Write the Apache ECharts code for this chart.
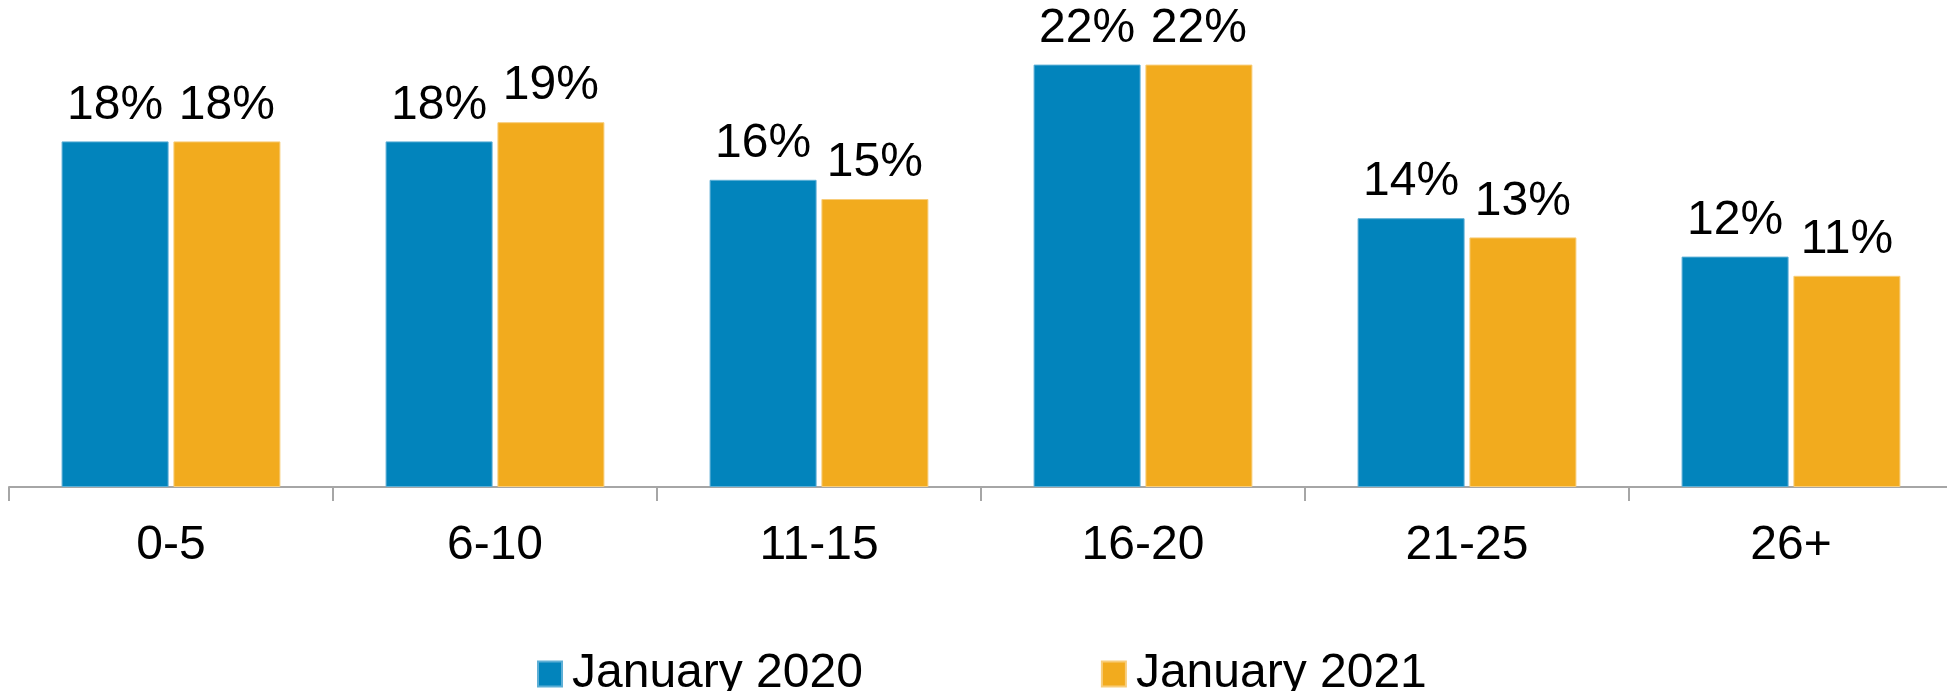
<!DOCTYPE html>
<html>
<head>
<meta charset="utf-8">
<script src="https://cdn.jsdelivr.net/npm/echarts@6/dist/echarts.min.js"></script>
<style>
html,body{margin:0;padding:0;background:#fff;overflow:hidden;}
#chart{width:1947px;height:691px;}
</style>
</head>
<body>
<div id="chart"></div>
<script>
const categories = ['0-5', '6-10', '11-15', '16-20', '21-25', '26+'];
const jan2020 = [18, 18, 16, 22, 14, 12];
const jan2021 = [18, 19, 15, 22, 13, 11];
const seriesNames = ['January 2020', 'January 2021'];

const FONT = '"Liberation Sans", Arial, sans-serif';
const chart = echarts.init(document.getElementById('chart'));
const labelCfg = {
  show: true,
  position: 'top',
  distance: 12,
  formatter: '{c}%',
  color: '#000',
  fontSize: 48,
  fontFamily: FONT
};
chart.setOption({
  animation: false,
  backgroundColor: '#fff',
  grid: { left: 9, right: -6, top: 7, height: 480, containLabel: false, outerBoundsMode: 'none' },
  legend: {
    left: 532,
    top: 645,
    itemWidth: 24,
    itemHeight: 25,
    itemGap: 238,
    icon: 'rect',
    textStyle: { color: '#000', fontSize: 48, fontFamily: FONT, padding: [0, 0, 0, 5] },
    data: seriesNames
  },
  xAxis: {
    type: 'category',
    data: categories,
    axisLine: { lineStyle: { color: '#A6A6A6', width: 2 } },
    axisTick: { show: true, length: 14, lineStyle: { color: '#A6A6A6', width: 2 } },
    axisLabel: { color: '#000', fontSize: 48, fontFamily: FONT, margin: 35 }
  },
  yAxis: {
    type: 'value',
    min: 0,
    max: 25,
    show: false,
    splitLine: { show: false }
  },
  series: [
    {
      name: seriesNames[0],
      type: 'bar',
      data: jan2020,
      barWidth: 107,
      barGap: '4.5%',
      itemStyle: { color: '#0284BC', borderColor: '#5DAFD6', borderWidth: 1 },
      label: labelCfg
    },
    {
      name: seriesNames[1],
      type: 'bar',
      data: jan2021,
      barWidth: 107,
      barGap: '4.5%',
      itemStyle: { color: '#F2AB1E', borderColor: '#F8CD7A', borderWidth: 1 },
      label: labelCfg
    }
  ]
});
</script>
</body>
</html>
